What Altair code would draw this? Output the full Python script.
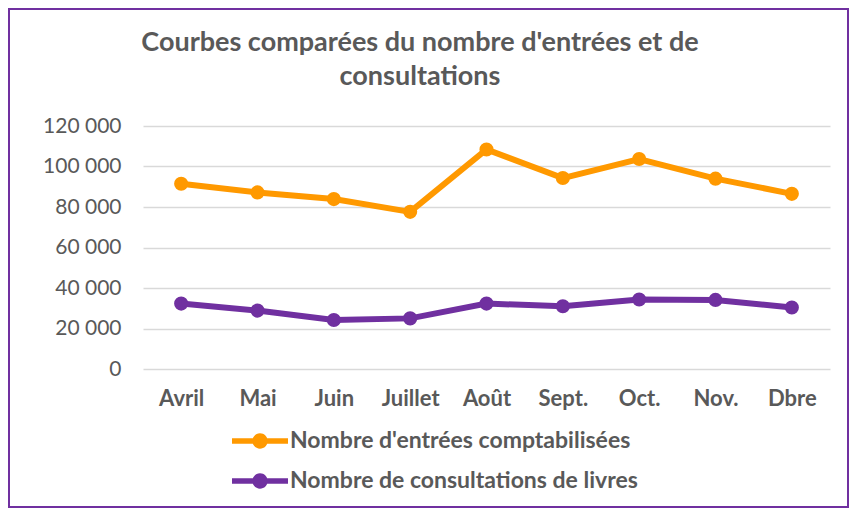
import altair as alt
import pandas as pd

mois = ["Avril", "Mai", "Juin", "Juillet", "Août", "Sept.", "Oct.", "Nov.", "Dbre"]
entrees = [91500, 87200, 83900, 77600, 108400, 94300, 103700, 94000, 86500]
consultations = [32300, 28850, 24200, 25000, 32300, 31000, 34300, 34100, 30350]
series = ["Nombre d'entrées comptabilisées", "Nombre de consultations de livres"]
couleurs = ["#FF9900", "#7030A0"]
titre = ["Courbes comparées du nombre d'entrées et de", "consultations"]

rows = []
for m, v in zip(mois, entrees):
    rows.append({"mois": m, "serie": series[0], "valeur": v})
for m, v in zip(mois, consultations):
    rows.append({"mois": m, "serie": series[1], "valeur": v})
df = pd.DataFrame(rows)

FONT = "Lato"
GRAY = "#595959"

symbol_path = ("M-1,-0.2L3,-0.2L3,0.2L-1,0.2Z "
               "M1.55,0A0.55,0.55 0 1 1 0.45,0A0.55,0.55 0 1 1 1.55,0Z")

x_enc = alt.X("mois:N", sort=mois, title=None,
              axis=alt.Axis(labelFont=FONT, labelFontSize=22, labelFontWeight="bold",
                            labelColor=GRAY, labelPadding=19, ticks=False, domain=False,
                            grid=False, labelAngle=0))
y_enc = alt.Y("valeur:Q", title=None,
              scale=alt.Scale(domain=[0, 120000], nice=False),
              axis=alt.Axis(values=[0, 20000, 40000, 60000, 80000, 100000, 120000],
                            labelExpr="replace(format(datum.value, ','), ',', ' ')",
                            labelFont=FONT, labelFontSize=21, labelColor=GRAY,
                            labelPadding=22, ticks=False, domain=False,
                            gridColor="#D9D9D9", gridWidth=1.5))
color_enc = alt.Color("serie:N", sort=series,
                      scale=alt.Scale(domain=series, range=couleurs),
                      legend=alt.Legend(title=None, orient="none", legendX=89, legendY=301,
                                        direction="vertical", symbolType=symbol_path,
                                        symbolSize=784, symbolStrokeWidth=0,
                                        labelFont=FONT, labelFontSize=23,
                                        labelFontWeight="bold", labelColor=GRAY,
                                        labelOffset=30, rowPadding=14, labelLimit=600))

base = alt.Chart(df)
points = base.mark_point(filled=True, size=200, opacity=1).encode(x=x_enc, y=y_enc, color=color_enc)
lines = base.mark_line(strokeWidth=6).encode(x=x_enc, y=y_enc, color=color_enc, detail="serie:N")

deco = alt.Chart(pd.DataFrame({"a": [0]}))
border = deco.mark_rect(
    fillOpacity=0, stroke="#7030A0", strokeWidth=2
).encode(x=alt.value(-134), x2=alt.value(705), y=alt.value(-117), y2=alt.value(381))
title = deco.mark_text(
    text=titre, font=FONT, fontSize=27, fontWeight="bold", color=GRAY,
    align="center", baseline="alphabetic", lineHeight=34
).encode(x=alt.value(277), y=alt.value(-75))

chart = alt.layer(points, lines, border, title).properties(
    width=687, height=243,
    autosize=alt.AutoSizeParams(type="none"),
    padding={"left": 135, "top": 118, "right": 19, "bottom": 139},
).configure(background="white").configure_view(strokeWidth=0, stroke="transparent")

chart.save("out.html", embed_options={"renderer": "svg", "actions": False})
